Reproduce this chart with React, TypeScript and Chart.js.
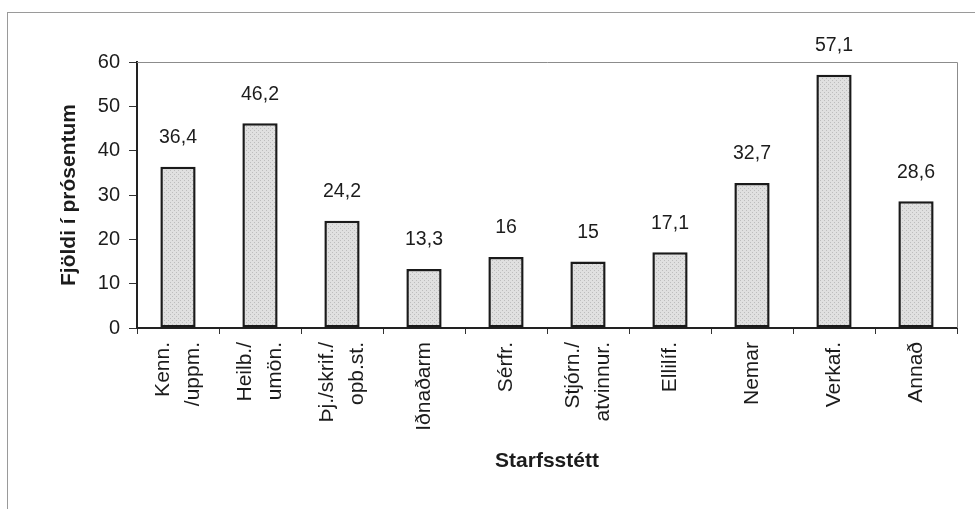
import React, { useEffect, useRef } from "react";
import { Chart, registerables } from "chart.js";
Chart.register(...registerables);

const categories: (string | string[])[] = [
  ["Kenn.", "/uppm."],
  ["Heilb./", "umön."],
  ["Þj./skrif./", "opb.st."],
  "Iðnaðarm",
  "Sérfr.",
  ["Stjórn./", "atvinnur."],
  "Ellilíf.",
  "Nemar",
  "Verkaf.",
  "Annað",
];
const values = [36.4, 46.2, 24.2, 13.3, 16, 15, 17.1, 32.7, 57.1, 28.6];
const yMin = 0;
const yMax = 60;
const yStep = 10;
const yTitle = "Fjöldi í prósentum";
const xTitle = "Starfsstétt";

const FONT = "'Liberation Sans', Arial, Helvetica, sans-serif";
const INK = "#1c1c1c";

const fmt = (v: number) => String(v).replace(".", ",");

function makePattern(): CanvasPattern | string {
  const c = document.createElement("canvas");
  c.width = 4;
  c.height = 4;
  const g = c.getContext("2d");
  if (!g) return "#dcdcdc";
  g.fillStyle = "#e0e0e0";
  g.fillRect(0, 0, 4, 4);
  g.fillStyle = "#bdbdbd";
  g.fillRect(0, 0, 1, 1);
  g.fillRect(2, 2, 1, 1);
  const p = g.createPattern(c, "repeat");
  return p || "#dcdcdc";
}

const centerMultiline = {
  id: "centerMultiline",
  beforeDraw(chart: any) {
    const s = chart.scales.x;
    const items = s.getLabelItems(chart.chartArea);
    items.forEach((it: any) => {
      if (it._shifted) return;
      const n = Array.isArray(it.label) ? it.label.length : 1;
      if (n > 1) it.options.translation[0] -= ((n - 1) * it.font.lineHeight) / 2;
      it._shifted = true;
    });
  },
};

const decor = {
  id: "decor",
  beforeDatasetsDraw(chart: any) {
    const { ctx, chartArea: a } = chart;
    ctx.save();
    ctx.strokeStyle = "#8c8c8c";
    ctx.lineWidth = 1;
    ctx.beginPath();
    ctx.moveTo(a.left, a.top + 0.5);
    ctx.lineTo(a.right + 0.5, a.top + 0.5);
    ctx.lineTo(a.right + 0.5, a.bottom);
    ctx.stroke();
    ctx.restore();
  },
  afterDatasetsDraw(chart: any) {
    const { ctx } = chart;
    const meta = chart.getDatasetMeta(0);
    ctx.save();
    ctx.fillStyle = INK;
    ctx.font = `19.5px ${FONT}`;
    ctx.textAlign = "center";
    ctx.textBaseline = "middle";
    meta.data.forEach((bar: any, i: number) => {
      ctx.fillText(fmt(values[i]), bar.x, bar.y - 29);
    });
    ctx.restore();
  },
};

export default function App() {
  const ref = useRef<HTMLCanvasElement | null>(null);
  useEffect(() => {
    if (!ref.current) return;
    const chart = new Chart(ref.current, {
      type: "bar",
      data: {
        labels: categories as any,
        datasets: [
          {
            data: values,
            backgroundColor: makePattern() as any,
            borderColor: "#1a1a1a",
            borderWidth: 2.5,
            borderSkipped: false,
            categoryPercentage: 1,
            barPercentage: 0.43,
          },
        ],
      },
      options: {
        responsive: false,
        animation: false,
        events: [],
        layout: { padding: { left: 0, top: 62, right: 18, bottom: 0 } },
        plugins: {
          legend: { display: false },
          tooltip: { enabled: false },
        },
        scales: {
          x: {
            grid: {
              offset: true,
              drawOnChartArea: false,
              tickLength: 6,
              color: "#333",
            },
            border: { color: "#222", width: 2 },
            ticks: {
              autoSkip: false,
              minRotation: 90,
              maxRotation: 90,
              padding: 8,
              color: INK,
              font: { family: FONT, size: 21, lineHeight: 1.45 },
            },
            title: {
              display: true,
              text: xTitle,
              color: INK,
              font: { family: FONT, size: 21, weight: "bold" },
              padding: { top: 0, bottom: 35 },
            },
            afterFit: (s: any) => {
              s.height = 509 - 328;
            },
          },
          y: {
            min: yMin,
            max: yMax,
            grid: {
              drawOnChartArea: false,
              tickLength: 8,
              color: "#333",
            },
            border: { color: "#222", width: 2 },
            ticks: {
              stepSize: yStep,
              padding: 9,
              color: INK,
              font: { family: FONT, size: 20 },
            },
            title: {
              display: true,
              text: yTitle,
              color: INK,
              font: { family: FONT, size: 21, weight: "bold" },
              padding: { top: 57, bottom: 0 },
            },
            afterFit: (s: any) => {
              s.width = 137;
            },
          },
        },
      },
      plugins: [centerMultiline, decor],
    });
    return () => chart.destroy();
  }, []);
  return (
    <div style={{ position: "fixed", left: 0, top: 0, width: 975, height: 509, background: "#fff" }}>
      <div
        style={{
          position: "absolute",
          left: 7,
          top: 12,
          right: 0,
          bottom: 0,
          borderTop: "1px solid #9a9a9a",
          borderLeft: "1px solid #9a9a9a",
        }}
      />
      <canvas ref={ref} width={975} height={509} style={{ position: "absolute", left: 0, top: 0 }} />
    </div>
  );
}
